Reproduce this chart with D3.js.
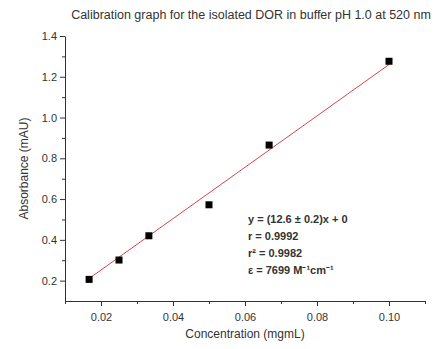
<!DOCTYPE html>
<html>
<head>
<meta charset="utf-8">
<script src="https://cdn.jsdelivr.net/npm/d3@7"></script>
<style>
  body { margin: 0; background: #fff; }
  text { font-family: "Liberation Sans", Arial, sans-serif; fill: #333; }
</style>
</head>
<body>
<div id="chart"></div>
<script>
const concentration = [0.0167, 0.025, 0.0333, 0.05, 0.0667, 0.1]
const absorbance = [0.206, 0.301, 0.42, 0.572, 0.865, 1.276]
const slope = 12.6
const intercept = 0
const xTicks = [0.02, 0.04, 0.06, 0.08, 0.10]
const yTicks = [0.2, 0.4, 0.6, 0.8, 1.0, 1.2, 1.4]
const fitLines = ["y = (12.6 \u00b1 0.2)x + 0", "r  = 0.9992", "r\u00b2 = 0.9982", "\u03b5 = 7699 M\u207b\u00b9cm\u207b\u00b9"]

const W = 442, H = 349
const margin = { top: 36, right: 17, bottom: 48, left: 65 }
const width = W - margin.left - margin.right
const height = H - margin.top - margin.bottom

const svg = d3.select("#chart").append("svg")
    .attr("width", W)
    .attr("height", H)

const g = svg.append("g")
    .attr("transform", "translate(" + margin.left + "," + margin.top + ")")

const x = d3.scaleLinear().domain([0.01, 0.11]).range([0, width])
const y = d3.scaleLinear().domain([0.1, 1.4]).range([height, 0])

// minor ticks
g.append("g")
    .attr("transform", "translate(0," + height + ")")
    .call(d3.axisBottom(x).tickValues(d3.range(0.01, 0.111, 0.02)).tickSize(3).tickFormat(""))
    .call(a => a.select(".domain").remove())
g.append("g")
    .call(d3.axisLeft(y).tickValues(d3.range(0.3, 1.31, 0.2)).tickSize(3).tickFormat(""))
    .call(a => a.select(".domain").remove())

// main axes
const xAxis = g.append("g")
    .attr("transform", "translate(0," + height + ")")
    .call(d3.axisBottom(x).tickValues(xTicks).tickSize(5).tickSizeOuter(0).tickFormat(d3.format(".2f")))
const yAxis = g.append("g")
    .call(d3.axisLeft(y).tickValues(yTicks).tickSize(5).tickSizeOuter(0).tickFormat(d3.format(".1f")))

svg.selectAll(".tick line, .domain").attr("stroke", "#333")
svg.selectAll(".tick text").style("font-size", "11px").attr("fill", "#333")
xAxis.selectAll(".tick text").attr("dy", "1.1em")

// fit line
g.append("line")
    .attr("x1", x(concentration[0]))
    .attr("y1", y(slope * concentration[0] + intercept))
    .attr("x2", x(concentration[concentration.length - 1]))
    .attr("y2", y(slope * concentration[concentration.length - 1] + intercept))
    .attr("stroke", "#d8434f")
    .attr("stroke-width", 1)

// points
g.selectAll(".pt")
    .data(concentration)
    .enter().append("rect")
    .attr("class", "pt")
    .attr("x", (d, i) => x(d) - 3.5)
    .attr("y", (d, i) => y(absorbance[i]) - 3.5)
    .attr("width", 7)
    .attr("height", 7)
    .attr("fill", "#000")

// title
svg.append("text")
    .attr("x", 251)
    .attr("y", 19)
    .attr("text-anchor", "middle")
    .style("font-size", "12.5px")
    .text("Calibration graph for the isolated DOR in buffer pH 1.0 at 520 nm")

// axis titles
svg.append("text")
    .attr("x", margin.left + x(0.06))
    .attr("y", 338)
    .attr("text-anchor", "middle")
    .style("font-size", "12px")
    .text("Concentration (mgmL)")

svg.append("text")
    .attr("transform", "translate(28," + (margin.top + y(0.75)) + ") rotate(-90)")
    .attr("text-anchor", "middle")
    .style("font-size", "12px")
    .text("Absorbance (mAU)")

// fit annotation
svg.append("g").selectAll("text")
    .data(fitLines)
    .enter().append("text")
    .attr("x", 248)
    .attr("y", (d, i) => 223 + i * 17)
    .style("font-size", "11px")
    .style("font-weight", "bold")
    .attr("fill", "#222")
    .text(d => d)
</script>
</body>
</html>
